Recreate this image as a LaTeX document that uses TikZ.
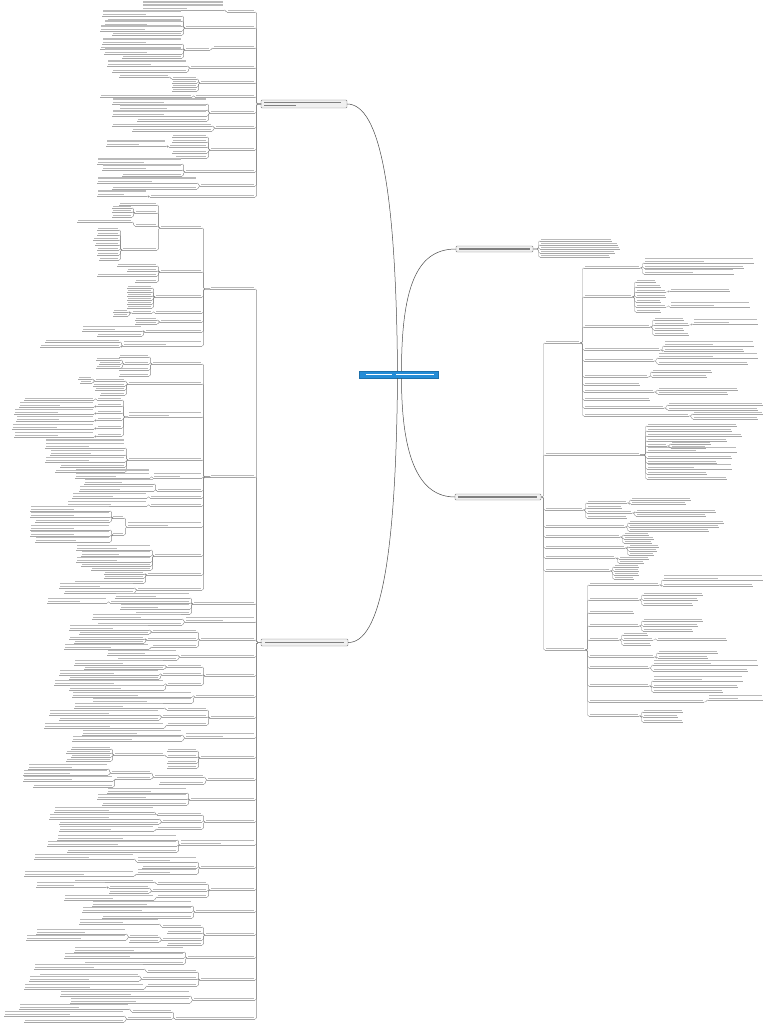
\documentclass[tikz,border=0pt]{standalone}
\usetikzlibrary{calc}
\definecolor{cblue}{RGB}{36,140,214}
\tikzset{
  box/.style={inner sep=0pt, outer sep=0pt},
  uline/.style={draw=black!35, line width=0.3pt},
  txt/.style={fill=black!27},
  conn/.style={draw=black!45, line width=0.3pt, rounded corners=1.2pt},
  mainconn/.style={draw=black!70, line width=0.5pt},
  mainbox/.style={draw=black!50, fill=black!6, rounded corners=1pt, line width=0.4pt, inner sep=0pt, outer sep=0pt, anchor=north west},
  maintxt/.style={fill=black!50},
}
% left item: name, right x, underline y, width, lines
\newcommand\itemL[5]{%
  \node[box, minimum width={(#4)*1pt}, minimum height={(#5)*3.3pt}, anchor=south east] (#1) at (#2,#3) {};
  \draw[uline] (#1.south west) -- (#1.south east);
  \foreach \k in {1,...,#5}{%
    \pgfmathsetmacro\bw{ifthenelse(and(\k==1,#5>1),0.55,1)*(#4-1.2)}%
    \pgfmathsetmacro\by{0.8+(\k-1)*3.3}%
    \fill[txt] ($(#1.south west)+(0.6,-\by)$) rectangle ++(\bw,-1.4);
  }%
}
\newcommand\itemR[5]{%
  \node[box, minimum width={(#4)*1pt}, minimum height={(#5)*3.3pt}, anchor=south west] (#1) at (#2,#3) {};
  \draw[uline] (#1.south west) -- (#1.south east);
  \foreach \k in {1,...,#5}{%
    \pgfmathsetmacro\bw{ifthenelse(and(\k==1,#5>1),0.55,1)*(#4-1.2)}%
    \pgfmathsetmacro\by{0.8+(\k-1)*3.3}%
    \fill[txt] ($(#1.south west)+(0.6,-\by)$) rectangle ++(\bw,-1.4);
  }%
}
% children to the left: parent anchor, prefix, right x, list y/w/n
\newcommand\Lk[4]{%
  \pgfmathsetmacro\sxL{#3+1.6}%
  \foreach \yy/\ww/\nn [count=\ii] in {#4}{%
    \itemL{#2\ii}{#3}{\yy}{\ww}{\nn}%
    \draw[conn] let \p1=(#1) in (#1) -- (\sxL pt,\y1) |- (#2\ii.south east);%
  }%
}
% children to the right
\newcommand\Rk[4]{%
  \pgfmathsetmacro\sxR{#3-1.6}%
  \foreach \yy/\ww/\nn [count=\ii] in {#4}{%
    \itemR{#2\ii}{#3}{\yy}{\ww}{\nn}%
    \draw[conn] let \p1=(#1) in (#1) -- (\sxR pt,\y1) |- (#2\ii.south west);%
  }%
}
\begin{document}
\begin{tikzpicture}[x=1pt,y=-1pt]
\fill[white] (0,0) rectangle (768,1024);
\useasboundingbox (0,0) rectangle (768,1024);

% ---------- central and main nodes ----------
\node[fill=cblue, draw=cblue!80!black, line width=0.3pt, minimum width=79pt, minimum height=7pt, inner sep=0pt, outer sep=0pt, anchor=north west] (c) at (359,371) {};
\fill[white] (366,373.7) rectangle (392,375.4);
\fill[white] (396,373.7) rectangle (434,375.4);

\node[mainbox, minimum width=86pt, minimum height=8pt] (m1) at (261,100) {};
\fill[maintxt] (264,101.9) rectangle (341,103.2);
\fill[maintxt] (264,104.9) rectangle (296,106.2);
\node[mainbox, minimum width=77pt, minimum height=6pt] (m2) at (456,246) {};
\fill[maintxt] (459,248.3) rectangle (530,249.7);
\node[mainbox, minimum width=86pt, minimum height=6pt] (m3) at (455,494) {};
\fill[maintxt] (458,496.3) rectangle (537,497.7);
\node[mainbox, minimum width=87pt, minimum height=7pt] (m4) at (261,639) {};
\fill[maintxt] (265,641.8) rectangle (344,643.2);

\draw[mainconn] ($(c.north)+(-1,0)$) .. controls (396,190) and (380,104) .. (m1.east);
\draw[mainconn] ($(c.north)+(3,0)$) .. controls (401.5,280) and (420,249) .. (m2.west);
\draw[mainconn] ($(c.south)+(3,0)$) .. controls (401.5,460) and (420,497) .. (m3.west);
\draw[mainconn] ($(c.south)+(-1,0)$) .. controls (396,560) and (380,643) .. (m4.east);

% ---------- top-left branch ----------
\Lk{m1.west}{A}{255}{12/28/1, 28/70/1, 48/42/1, 68/65/1, 83/55/1, 97/60/1, 113/45/1, 128/40/1, 150/45/1, 172/70/1, 186/55/1, 197/105/1}
\Lk{A1.south west}{A1c}{224}{10/82/3}
\Lk{A2.south west}{A2c}{182}{16/80/2, 21/75/1, 26/78/2, 31/82/2, 35/70/1}
\Lk{A3.south west}{A3c}{210}{50/25/1}
\Lk{A3c1.south west}{A3c1c}{182}{44/80/2, 49/82/1, 54/78/2, 58/60/1}
\Lk{A4.south west}{A4c}{187}{66/80/2, 72/75/1}
\Lk{A5.south west}{A5c}{197}{79/25/1, 83/25/1, 87/25/1, 91/25/1}
\Lk{A5c1.south west}{A5c1c}{169}{77/50/1}
\Lk{A6.south west}{A6c}{192}{97/92/1}
\Lk{A7.south west}{A7c}{207}{104/95/2, 110/88/2, 116/95/2, 121/70/1}
\Lk{A8.south west}{A8c}{212}{126/100/1, 131/80/1}
\Lk{A9.south west}{A9c}{207}{137/35/1, 142/35/1, 147/38/1, 153/35/1, 158/32/1}
\Lk{A9c3.south west}{A9c3c}{166}{146/60/2}
\Lk{A10.south west}{A10c}{182}{164/85/2, 170/80/2, 176/60/1}
\Lk{A11.south west}{A11c}{197}{183/100/2, 189/85/1}
\Lk{A12.south west}{A12c}{147}{196/50/2}

% ---------- bottom-left branch ----------
\Lk{m4.west}{B}{255}{289/45/1, 477/45/1, 604/62/1, 622/70/2, 640/55/1, 657/75/1, 676/50/1, 697/60/1, 718/45/1, 738/70/2, 758/55/1, 780/48/1, 800/65/1, 822/50/1, 845/75/2, 868/55/1, 890/45/1, 912/60/1, 935/50/1, 958/68/1, 980/55/1, 1000/62/1, 1019/80/1}
% B1
\Lk{B1.south west}{B1c}{202}{228/42/1, 272/42/1, 297/47/1, 313/47/1, 322/42/1, 332/57/1, 346/79/2}
\Lk{B1c1.south west}{B1c1c}{157}{205/38/1, 213/22/1, 226/22/1, 250/35/1}
\Lk{B1c1c2.south west}{B1c1c2c}{132}{208/20/1, 212/20/1, 217/20/1}
\Lk{B1c1c3.south west}{B1c1c3c}{132}{222/55/1}
\Lk{B1c1c4.south west}{B1c1c4c}{119}{230/22/1, 235/22/1, 240/26/1, 245/24/1, 250/22/1, 255/22/1, 260/20/1}
\Lk{B1c2.south west}{B1c2c}{157}{266/40/1, 271/30/1, 276/60/1, 282/22/1}
\Lk{B1c3.south west}{B1c3c}{152}{288/25/1, 292/25/1, 296/25/1, 300/25/1, 304/25/1, 308/25/1}
\Lk{B1c4.south west}{B1c4c}{152}{313/20/1}
\Lk{B1c4c1.south west}{B1c4c1c}{128}{312/15/1, 316/15/1}
\Lk{B1c5.south west}{B1c5c}{157}{320/22/1, 324/22/1}
\Lk{B1c6.south west}{B1c6c}{142}{331/60/2, 336/45/1}
\Lk{B1c7.south west}{B1c7c}{120}{342/75/1, 347/80/1}
% B2
\Lk{B2.south west}{B2c}{202}{364/50/1, 384/74/1, 417/74/2, 460/74/1, 478/49/2, 491/45/1, 498/52/1, 506/52/1, 527/75/2, 556/48/1, 575/55/1, 590/65/1}
\Lk{B2c1.south west}{B2c1c}{149}{357/30/1, 364/25/1, 370/30/1, 376/30/1}
\Lk{B2c1c2.south west}{B2c1c2c}{121}{360/25/1, 364/22/1, 368/25/1}
\Lk{B2c2.south west}{B2c2c}{125}{381/30/1, 386/32/1, 390/30/1, 395/25/1}
\Lk{B2c2c1.south west}{B2c2c1c}{92}{379/14/1, 383/12/1}
\Lk{B2c3.south west}{B2c3c}{122}{400/25/1, 406/25/1, 413/25/1, 420/25/1, 428/25/1, 436/25/1}
\Lk{B2c3c1.south west}{B2c3c1c}{94}{400/70/1}
\Lk{B2c3c2.south west}{B2c3c2c}{94}{407/75/2}
\Lk{B2c3c3.south west}{B2c3c3c}{94}{414/80/2}
\Lk{B2c3c4.south west}{B2c3c4c}{94}{421/78/2}
\Lk{B2c3c5.south west}{B2c3c5c}{94}{429/82/2}
\Lk{B2c3c6.south west}{B2c3c6c}{94}{437/80/2}
\Lk{B2c4.south west}{B2c4c}{125}{448/80/3, 455/75/2, 462/80/2, 467/65/1, 472/70/1}
\Lk{B2c5.south west}{B2c5c}{150}{478/75/3}
\Lk{B2c6.south west}{B2c6c}{154}{484/70/2, 491/75/2}
\Lk{B2c7.south west}{B2c7c}{147}{498/75/2}
\Lk{B2c8.south west}{B2c8c}{147}{506/80/2}
\Lk{B2c9.south west}{B2c9c}{124}{518/12/1, 535/12/1}
\Lk{B2c9c1.south west}{B2c9c1c}{110}{511/80/2, 517/80/2, 522/75/1}
\Lk{B2c9c2.south west}{B2c9c2c}{110}{530/80/2, 536/80/2, 542/75/2}
\Lk{B2c10.south west}{B2c10c}{151}{550/75/2, 556/70/2, 562/75/2, 566/70/1, 570/60/1}
\Lk{B2c11.south west}{B2c11c}{144}{574/40/1, 578/40/1, 583/70/1}
\Lk{B2c12.south west}{B2c12c}{134}{588/75/2, 593/70/1}
% B3 .. B23
\Lk{B3.south west}{B3c}{190}{598/75/2, 603/80/1, 609/70/2, 614/55/1}
\Lk{B3c2.south west}{B3c2c}{107}{603/60/2}
\Lk{B4.south west}{B4c}{182}{619/90/2, 625/85/1}
\Lk{B5.south west}{B5c}{197}{632/45/1, 640/50/1, 647/45/1}
\Lk{B5c1.south west}{B5c1c}{149}{630/80/2, 634/70/1}
\Lk{B5c2.south west}{B5c2c}{144}{639/75/1, 643/70/1}
\Lk{B5c3.south west}{B5c3c}{149}{649/85/2}
\Lk{B6.south west}{B6c}{177}{655/70/2, 660/60/1}
\Lk{B7.south west}{B7c}{202}{667/35/1, 675/40/1, 685/35/1}
\Lk{B7c1.south west}{B7c1c}{164}{665/90/2, 669/80/1}
\Lk{B7c2.south west}{B7c2c}{159}{675/100/2, 679/90/1}
\Lk{B7c3.south west}{B7c3c}{164}{685/110/2, 690/95/2}
\Lk{B8.south west}{B8c}{192}{697/120/2, 703/100/2}
\Lk{B9.south west}{B9c}{207}{710/40/1, 717/45/1, 725/40/1}
\Lk{B9c1.south west}{B9c1c}{164}{708/90/2}
\Lk{B9c2.south west}{B9c2c}{159}{715/110/2, 720/100/1}
\Lk{B9c3.south west}{B9c3c}{164}{728/120/2}
\Lk{B10.south west}{B10c}{182}{735/100/2, 741/110/2}
\Lk{B11.south west}{B11c}{197}{751/30/1, 757/30/1, 763/30/1, 768/30/1}
\Lk{B11c2.south west}{B11c2c}{164}{755/50/1}
\Lk{B11c2c1.south west}{B11c2c1c}{111}{749/40/1, 753/45/1, 757/40/1, 761/45/1}
\Lk{B12.south west}{B12c}{204}{777/50/1, 784/45/1}
\Lk{B12c1.south west}{B12c1c}{151}{773/40/1, 779/35/1}
\Lk{B12c1c1.south west}{B12c1c1c}{108}{769/80/2, 775/85/2}
\Lk{B12c1c2.south west}{B12c1c2c}{113}{781/90/2, 787/80/1}
\Lk{B13.south west}{B13c}{187}{793/80/2, 799/90/2, 805/85/1}
\Lk{B14.south west}{B14c}{202}{815/45/1, 822/40/1, 829/45/1}
\Lk{B14c1.south west}{B14c1c}{154}{812/100/2}
\Lk{B14c2.south west}{B14c2c}{159}{819/110/2, 824/100/1}
\Lk{B14c3.south west}{B14c3c}{154}{831/95/2}
\Lk{B15.south west}{B15c}{177}{840/120/2, 846/130/2, 852/110/1}
\Lk{B16.south west}{B16c}{197}{862/60/2, 868/55/1, 874/60/2}
\Lk{B16c1.south west}{B16c1c}{134}{859/100/2}
\Lk{B16c3.south west}{B16c3c}{134}{876/110/2}
\Lk{B17.south west}{B17c}{207}{884/50/1, 891/55/1, 897/50/1}
\Lk{B17c1.south west}{B17c1c}{154}{882/80/1}
\Lk{B17c2.south west}{B17c2c}{149}{888/40/1, 893/40/1}
\Lk{B17c2c1.south west}{B17c2c1c}{106}{887/70/2}
\Lk{B17c3.south west}{B17c3c}{154}{900/90/2}
\Lk{B18.south west}{B18c}{192}{906/100/2, 912/110/2, 918/90/1}
\Lk{B19.south west}{B19c}{202}{927/40/1, 933/35/1, 940/40/1, 945/35/1}
\Lk{B19c1.south west}{B19c1c}{159}{924/80/2}
\Lk{B19c3.south west}{B19c3c}{159}{937/30/1, 942/30/1}
\Lk{B19c3c1.south west}{B19c3c1c}{126}{934/90/2, 940/100/2}
\Lk{B20.south west}{B20c}{184}{952/110/2, 958/120/2, 964/100/1}
\Lk{B21.south west}{B21c}{197}{972/50/1, 979/55/1, 986/50/1}
\Lk{B21c1.south west}{B21c1c}{144}{969/110/2}
\Lk{B21c2.south west}{B21c2c}{139}{976/100/1, 981/110/2}
\Lk{B21c3.south west}{B21c3c}{144}{989/120/2}
\Lk{B22.south west}{B22c}{190}{996/130/2, 1003/120/2}
\Lk{B23.south west}{B23c}{172}{1012/40/1, 1019/45/1}
\Lk{B23c1.south west}{B23c1c}{129}{1009/110/2}
\Lk{B23c2.south west}{B23c2c}{124}{1016/120/2, 1022/100/1}

% ---------- right branch m2 ----------
\Rk{m2.east}{C}{540}{241/72/1, 245/78/1, 249/80/1, 253/75/1, 257/70/1}

% ---------- right branch m3 ----------
\Rk{m3.east}{D}{545}{343/35/1, 455/95/1, 510/38/1, 527/80/1, 537/75/1, 548/80/1, 558/70/1, 571/65/1, 650/40/1}
% D1
\Rk{D1.south east}{D1c}{584}{268/56/1, 297/48/1, 327/66/1, 350/76/1, 361/70/1, 377/64/1, 385/56/1, 392/70/1, 400/66/1, 408/80/1, 416/105/1}
\Rk{D1c1.south east}{D1c1c}{644}{263/110/2, 268/100/1, 274/90/2}
\Rk{D1c2.south east}{D1c2c}{636}{282/20/1, 287/25/1, 292/30/1, 297/30/1, 302/25/1, 307/30/1, 312/25/1}
\Rk{D1c2c3.south east}{D1c2c3c}{670}{291/60/1}
\Rk{D1c2c6.south east}{D1c2c6c}{670}{307/80/2}
\Rk{D1c3.south east}{D1c3c}{654}{320/30/1, 325/35/1, 330/30/1, 335/35/1}
\Rk{D1c3c2.south east}{D1c3c2c}{693}{324/65/2}
\Rk{D1c4.south east}{D1c4c}{664}{346/90/2, 351/80/1}
\Rk{D1c5.south east}{D1c5c}{658}{358/100/2, 364/90/1}
\Rk{D1c6.south east}{D1c6c}{652}{372/60/1, 377/55/1}
\Rk{D1c8.south east}{D1c8c}{658}{390/80/1, 394/70/1}
\Rk{D1c10.south east}{D1c10c}{668}{405/95/1, 410/90/1}
\Rk{D1c11.south east}{D1c11c}{693}{414/70/1, 419/65/1}
% D2
\Rk{D2.south east}{D2c}{647}{426/90/1, 431/85/1, 436/95/1, 441/80/1, 446/20/1, 452/90/2, 458/85/1, 463/70/1, 469/85/2, 474/60/1, 479/80/1}
\Rk{D2c5.south east}{D2c5c}{671}{444/40/1, 448/35/1}
% D3 - D8
\Rk{D3.south east}{D3c}{587}{503/40/1, 508/35/1, 513/45/1, 518/40/1}
\Rk{D3c1.south east}{D3c1c}{631}{500/60/1, 504/55/1}
\Rk{D3c3.south east}{D3c3c}{636}{512/80/1, 516/70/1}
\Rk{D4.south east}{D4c}{629}{523/95/1, 527/90/1, 531/80/1}
\Rk{D5.south east}{D5c}{624}{535/25/1, 539/30/1, 543/28/1}
\Rk{D6.south east}{D6c}{629}{547/30/1, 551/28/1, 555/25/1}
\Rk{D7.south east}{D7c}{619}{559/30/1, 563/25/1}
\Rk{D8.south east}{D8c}{614}{567/25/1, 571/25/1, 575/25/1, 579/20/1}
% D9
\Rk{D9.south east}{D9c}{589}{585/70/1, 600/50/1, 613/45/1, 626/50/1, 640/30/1, 657/65/1, 668/60/1, 686/60/1, 702/115/1, 716/50/1}
\Rk{D9c1.south east}{D9c1c}{663}{580/100/2, 586/90/1}
\Rk{D9c2.south east}{D9c2c}{643}{595/60/1, 600/55/1, 605/50/1}
\Rk{D9c4.south east}{D9c4c}{643}{621/60/1, 626/55/1, 631/50/1}
\Rk{D9c5.south east}{D9c5c}{623}{635/25/1, 640/30/1, 645/28/1}
\Rk{D9c5c2.south east}{D9c5c2c}{657}{640/70/1}
\Rk{D9c6.south east}{D9c6c}{658}{653/60/1, 658/50/1}
\Rk{D9c7.south east}{D9c7c}{653}{665/105/2, 671/95/1}
\Rk{D9c8.south east}{D9c8c}{653}{681/90/2, 687/85/1, 692/70/1}
\Rk{D9c9.south east}{D9c9c}{708}{700/55/2}
\Rk{D9c10.south east}{D9c10c}{643}{712/40/1, 717/35/1, 722/40/1}
\end{tikzpicture}
\end{document}
